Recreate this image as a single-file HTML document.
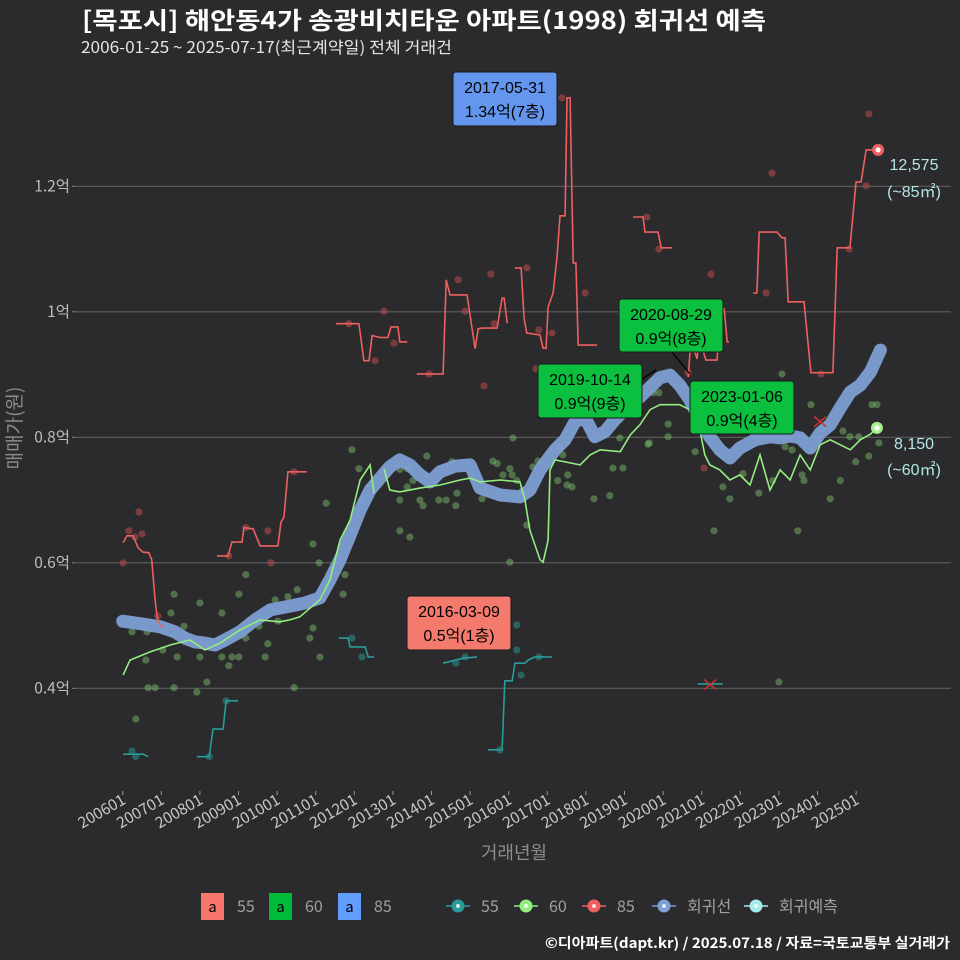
<!DOCTYPE html>
<html><head><meta charset="utf-8"><style>
html,body{margin:0;padding:0;background:#2b2b2d;}
svg{display:block;font-family:"Liberation Sans","Noto Sans CJK KR",sans-serif;}
</style></head><body>
<svg id="chart" width="960" height="960" viewBox="0 0 960 960" xmlns="http://www.w3.org/2000/svg">
<rect x="0" y="0" width="960" height="960" fill="#2b2b2d"/>
<text x="82" y="29" fill="#ffffff" font-size="24" font-weight="bold" textLength="684" lengthAdjust="spacingAndGlyphs" font-family="'Noto Sans CJK KR',sans-serif">[목포시] 해안동4가 송광비치타운 아파트(1998) 회귀선 예측</text>
<text x="81" y="53" fill="#e6e6e6" font-size="16" textLength="371" lengthAdjust="spacingAndGlyphs" font-family="'Noto Sans CJK KR',sans-serif">2006-01-25 ~ 2025-07-17(최근계약일) 전체 거래건</text>
<g id="grid"></g>
<g id="yaxis"></g>
<g id="xaxis"></g>
<g id="marks"></g>
<g id="notes"></g>
<text transform="translate(21,428) rotate(-90)" text-anchor="middle" fill="#8c8c8c" font-size="19" font-family="'Noto Sans CJK KR',sans-serif">매매가(원)</text>
<text x="514" y="859" text-anchor="middle" fill="#8c8c8c" font-size="18" font-family="'Noto Sans CJK KR',sans-serif">거래년월</text>
<g id="legend" font-family="'Noto Sans CJK KR',sans-serif" font-size="15"></g>
<text x="950" y="948" text-anchor="end" fill="#ffffff" font-size="14" font-weight="bold" textLength="405" lengthAdjust="spacingAndGlyphs" font-family="'Noto Sans CJK KR',sans-serif">©디아파트(dapt.kr) / 2025.07.18 / 자료=국토교통부 실거래가</text>
</svg>
<script>
// ---------- data ----------
const yTicks = [0.4, 0.6, 0.8, 1.0, 1.2];
const yTickLabels = ["0.4억", "0.6억", "0.8억", "1억", "1.2억"];
const xTickYears = [2006,2007,2008,2009,2010,2011,2012,2013,2014,2015,2016,2017,2018,2019,2020,2021,2022,2023,2024,2025];
const xTickLabels = ["200601","200701","200801","200901","201001","201101","201201","201301","201401","201501","201601","201701","201801","201901","202001","202101","202201","202301","202401","202501"];

const regYears = [2006.0,2006.45,2006.97,2007.35,2007.61,2007.87,2008.13,2008.39,2008.65,2009.04,2009.43,2009.82,2010.33,2010.72,2011.11,2011.37,2011.63,2011.89,2012.15,2012.41,2012.67,2012.92,2013.18,2013.44,2013.70,2013.96,2014.22,2014.61,2015.0,2015.26,2015.78,2016.29,2016.55,2016.81,2017.2,2017.46,2017.72,2017.98,2018.23,2018.49,2018.75,2019.01,2019.40,2019.92,2020.18,2020.43,2020.69,2020.95,2021.21,2021.47,2021.73,2021.99,2022.38,2022.77,2023.03,2023.29,2023.55,2023.81,2024.07,2024.33,2024.59,2024.85,2025.11,2025.37,2025.63];
const regValues = [0.507,0.503,0.498,0.490,0.480,0.474,0.472,0.469,0.477,0.490,0.509,0.525,0.531,0.536,0.544,0.573,0.605,0.644,0.684,0.716,0.735,0.753,0.764,0.756,0.740,0.729,0.745,0.754,0.756,0.719,0.708,0.705,0.716,0.748,0.780,0.796,0.825,0.831,0.801,0.809,0.828,0.844,0.864,0.895,0.899,0.883,0.860,0.828,0.801,0.780,0.767,0.783,0.796,0.801,0.799,0.802,0.799,0.783,0.807,0.820,0.847,0.872,0.883,0.904,0.939];

const s60Years = [2006.01,2006.19,2006.71,2007.23,2007.74,2008.13,2008.52,2009.04,2009.56,2010.07,2010.33,2010.59,2011.11,2011.37,2011.63,2011.89,2012.15,2012.41,2012.51,null,2012.77,2012.92,2013.18,2013.70,2014.22,2014.74,2015.0,2015.26,2015.78,2016.29,2016.42,2016.55,2016.81,2016.89,2017.02,2017.07,2017.20,2017.85,2018.11,2018.37,2018.89,2019.15,2019.40,2019.66,2019.92,2020.43,2020.69,2020.95,2021.08,2021.21,2021.47,2021.73,2021.99,2022.25,2022.51,2022.77,2023.03,2023.29,2023.55,2023.81,2024.07,2024.33,2024.59,2024.85,2025.11,2025.37,2025.54];
const s60Values = [0.421,0.445,0.458,0.469,0.477,0.461,0.472,0.493,0.509,0.506,0.509,0.514,0.541,0.573,0.636,0.668,0.732,0.756,0.711,null,0.750,0.716,0.713,0.719,0.724,0.732,0.735,0.729,0.732,0.729,0.700,0.652,0.605,0.601,0.636,0.748,0.764,0.756,0.772,0.780,0.777,0.804,0.820,0.844,0.852,0.852,0.844,0.812,0.772,0.756,0.748,0.732,0.740,0.724,0.772,0.716,0.748,0.732,0.772,0.748,0.788,0.796,0.788,0.780,0.796,0.805,0.815];

const s85Years = [2006.01,2006.11,2006.27,2006.40,2006.52,2006.68,2006.75,2006.84,2006.89,2006.97,2007.04,null,
 2008.44,2008.73,2008.83,2009.09,2009.14,2009.38,2009.56,2010.02,2010.10,2010.18,2010.28,2010.77,null,
 2011.53,2012.12,2012.25,2012.38,2012.46,2012.67,2012.87,2012.95,2013.13,2013.18,2013.37,null,
 2013.62,2014.30,2014.38,2014.48,2014.92,2015.13,2015.21,2015.31,2015.70,2015.83,2015.88,2015.96,null,
 2016.16,2016.32,2016.40,2016.47,2016.81,2016.89,2016.97,2017.02,2017.15,2017.25,2017.33,2017.46,2017.51,2017.59,2017.67,2017.74,2017.80,2018.29,null,
 2019.22,2019.48,2019.53,2019.87,2019.95,2020.23,null,
 2020.65,2020.72,2020.88,2020.93,2021.11,2021.40,2021.47,2021.58,2021.66,2021.71,null,
 2022.33,2022.43,2022.49,2022.95,2023.08,2023.16,2023.24,2023.65,2023.83,2024.40,2024.51,2024.84,2025.00,2025.13,2025.26,2025.44,2025.57];
const s85Values = [0.632,0.643,0.643,0.624,0.617,0.616,0.605,0.541,0.514,0.499,0.499,null,
 0.611,0.611,0.633,0.633,0.656,0.654,0.627,0.627,0.665,0.673,0.745,0.745,null,
 0.981,0.981,0.922,0.922,0.962,0.959,0.959,0.976,0.976,0.952,0.952,null,
 0.901,0.901,1.051,1.027,1.027,0.941,0.973,0.974,0.974,1.022,1.022,0.982,null,
 1.070,1.070,0.989,0.966,0.963,0.942,0.942,1.008,1.030,1.087,1.153,1.153,1.341,1.341,1.078,1.078,0.947,0.947,null,
 1.151,1.151,1.127,1.127,1.102,1.102,null,
 0.896,0.954,0.925,0.960,0.923,0.923,1.005,1.005,0.952,0.952,null,
 1.030,1.030,1.127,1.127,1.118,1.118,1.016,1.016,0.903,0.903,1.102,1.102,1.207,1.207,1.258,1.258,1.258];

const s55Years = [2006.01,2006.53,2006.66,null,2007.92,2008.24,2008.34,2008.60,2008.68,2008.99,null,2011.60,2011.84,2011.89,2012.28,2012.36,2012.51,null,2014.30,2014.56,2014.82,2015.18,null,2015.46,2015.83,2015.90,2016.09,2016.16,2016.42,2016.50,2016.68,2017.12,null,2020.90,2021.55];
const s55Values = [0.295,0.295,0.291,null,0.291,0.291,0.335,0.335,0.380,0.380,null,0.480,0.480,0.466,0.466,0.450,0.450,null,0.440,0.444,0.448,0.450,null,0.302,0.302,0.412,0.412,0.440,0.440,0.445,0.450,0.450,null,0.407,0.407];

const dot60Years = [2006.24,2006.63,2006.60,2006.66,2006.84,2006.34,2007.04,2007.25,2007.33,2007.41,2007.33,2007.59,2008.00,2008.00,2007.92,2008.18,2008.57,2008.57,2008.75,2008.83,2009.01,2009.19,2009.01,2009.19,2009.53,2009.76,2009.69,2009.95,2010.02,2010.28,2010.52,2010.44,2010.93,2010.93,2010.85,2011.11,2011.09,2011.27,2011.71,2011.76,2011.94,2012.12,2012.20,2013.18,2013.44,2013.18,2013.18,2013.37,2013.37,2013.52,2013.70,2013.78,2013.88,2014.19,2014.38,2014.53,2014.66,2014.63,2015.31,2015.59,2015.70,2015.85,2016.03,2016.09,2016.21,2016.11,2016.03,2016.47,2016.63,2016.76,2017.33,2017.40,2017.53,2017.27,2017.51,2017.64,2018.21,2018.62,2018.70,2018.96,2018.88,2019.61,2019.64,2020.13,2020.13,2019.74,2019.89,2020.83,2021.32,2021.55,2021.73,2022.07,2022.48,2022.84,2023.08,2023.16,2023.34,2023.60,2023.65,2023.49,2023.83,2024.33,2024.59,2024.66,2024.84,2025.07,2024.99,2025.33,2025.41,2025.54,2025.59,2023.00];
const dot60Values = [0.490,0.490,0.445,0.401,0.401,0.351,0.461,0.520,0.550,0.450,0.401,0.499,0.536,0.450,0.394,0.410,0.520,0.450,0.436,0.450,0.450,0.581,0.550,0.480,0.499,0.471,0.450,0.541,0.507,0.546,0.557,0.401,0.630,0.496,0.480,0.450,0.600,0.695,0.550,0.581,0.780,0.750,0.700,0.651,0.641,0.700,0.749,0.750,0.721,0.731,0.700,0.691,0.770,0.700,0.700,0.761,0.711,0.691,0.702,0.762,0.758,0.740,0.750,0.740,0.731,0.799,0.601,0.660,0.753,0.762,0.783,0.772,0.740,0.731,0.724,0.721,0.702,0.707,0.751,0.751,0.799,0.789,0.791,0.801,0.821,0.871,0.871,0.777,0.651,0.721,0.702,0.742,0.711,0.731,0.901,0.785,0.780,0.740,0.731,0.651,0.852,0.702,0.731,0.810,0.801,0.801,0.761,0.770,0.852,0.852,0.791,0.410];

const dot85Years = [2006.01,2006.16,2006.42,2006.50,2006.32,2006.91,2008.75,2009.19,2009.76,2009.84,2010.44,2011.86,2012.77,2012.54,2013.03,2013.94,2014.69,2014.87,2015.36,2015.54,2015.62,2016.47,2016.71,2016.78,2017.12,2017.38,2017.98,2019.58,2019.89,2021.24,2021.06,2022.67,2022.82,2024.09,2024.82,2025.26,2025.33,2020.65];
const dot85Values = [0.600,0.651,0.681,0.646,0.641,0.515,0.611,0.656,0.651,0.600,0.745,0.981,1.001,0.922,0.950,0.901,1.051,1.001,0.882,1.060,0.981,1.070,0.909,0.971,0.966,1.341,1.030,1.151,1.100,1.060,0.751,1.030,1.221,0.901,1.100,1.201,1.315,0.903];

const dot55Years = [2006.24,2006.34,2008.24,2008.68,2011.94,2012.20,2014.63,2014.87,2016.21,2016.21,2016.32,2016.78,2015.77];
const dot55Values = [0.300,0.291,0.291,0.380,0.480,0.450,0.440,0.450,0.501,0.461,0.421,0.450,0.302];

const crossYears = [2021.22, 2024.07];
const crossValues = [0.406, 0.825];

const noteDates = ["2017-05-31","2016-03-09","2019-10-14","2020-08-29","2023-01-06"];
const noteTexts = ["1.34억(7층)","0.5억(1층)","0.9억(9층)","0.9억(8층)","0.9억(4층)"];

// ---------- scales ----------
const X = yr => 122.7 + (yr - 2006) * 38.6;
const Y = v => 688.3 - (v - 0.4) * 627.5;
const NS = "http://www.w3.org/2000/svg";
function mk(tag, attrs, parent){ const e=document.createElementNS(NS,tag); for(const k in attrs) e.setAttribute(k,attrs[k]); parent.appendChild(e); return e; }
function pathFrom(xs, vs){ let d="", pen=false; for(let i=0;i<xs.length;i++){ if(xs[i]===null){pen=false;continue;} d+=(pen?"L":"M")+X(xs[i]).toFixed(1)+","+Y(vs[i]).toFixed(1); pen=true;} return d; }

const grid=document.getElementById('grid'), yax=document.getElementById('yaxis'), xax=document.getElementById('xaxis'), marks=document.getElementById('marks'), notes=document.getElementById('notes'), legend=document.getElementById('legend');

yTicks.forEach((v,i)=>{
  const l=mk('line',{x1:75,x2:951,y1:Y(v),y2:Y(v),stroke:'#5e5e5e','stroke-width':1.2},grid);
  
  
  const t=mk('line',{x1:72,x2:75,y1:Y(v),y2:Y(v),stroke:'#888','stroke-width':1},yax);
  
  
  const tx=mk('text',{x:70,y:Y(v)+5,'text-anchor':'end',fill:'#bdbdbd','font-size':15.5,'font-family':"'Noto Sans CJK KR',sans-serif"},yax);
  
  
  tx.textContent=yTickLabels[i];
});
xTickYears.forEach((yr,i)=>{
  const x=X(yr);
  const t=mk('line',{x1:x,x2:x,y1:791,y2:795,stroke:'#999','stroke-width':1},xax);
  
  
  const tx=mk('text',{transform:`translate(${x+4},${803}) rotate(-30)`,'text-anchor':'end',fill:'#c8c8c8','font-size':15.5,'font-family':"'Noto Sans CJK KR',sans-serif"},xax);
  
  
  tx.textContent=xTickLabels[i];
});

function dots(xs,vs,fill,op,name){
  xs.forEach((yr,i)=>{ const c=mk('circle',{cx:X(yr),cy:Y(vs[i]),r:3.6,fill:fill,'fill-opacity':op},marks);
    
     });
}
dots(dot60Years,dot60Values,'#79b86a',0.5,'point-60');
dots(dot85Years,dot85Values,'#b0484a',0.6,'point-85');
dots(dot55Years,dot55Values,'#2a7d7b',0.7,'point-55');

const reg=mk('path',{d:pathFrom(regYears,regValues),fill:'none',stroke:'#7e9fd4','stroke-width':13,'stroke-linecap':'round','stroke-linejoin':'round','stroke-opacity':0.95},marks);


const l55=mk('path',{d:pathFrom(s55Years,s55Values),fill:'none',stroke:'#2a9b98','stroke-width':1.6},marks);


const l60=mk('path',{d:pathFrom(s60Years,s60Values),fill:'none',stroke:'#93ee7f','stroke-width':1.6},marks);


const l85=mk('path',{d:pathFrom(s85Years,s85Values),fill:'none',stroke:'#ee5f5f','stroke-width':1.6},marks);



crossYears.forEach((yr,i)=>{ const x=X(yr),y=Y(crossValues[i]);
  const p=mk('path',{d:`M${x-6},${y-5}L${x+6},${y+5}M${x-6},${y+5}L${x+6},${y-5}`,stroke:'#d03030','stroke-width':1.5},marks);
  
   });

// end points
const last85=s85Values.length-1, last60=s60Values.length-1;
[[s85Years[last85],s85Values[last85],'#f06060','end-point-85'],[s60Years[last60],s60Values[last60],'#a5f08e','end-point-60']].forEach(e=>{
  const c=mk('circle',{cx:X(e[0]),cy:Y(e[1]),r:6,fill:e[2]},marks);
  
  
  const c2=mk('circle',{cx:X(e[0]),cy:Y(e[1]),r:2.6,fill:'#ffffff'},marks);
  
  
});
[[164,"12,575"],[191,"(~85㎡)"],[443,"8,150"],[469,"(~60㎡)"]].forEach(r=>{
  const t=mk('text',{x:914,y:r[0]+6,'text-anchor':'middle',fill:'#b3e6e6','font-size':16},notes);
  
  
  t.textContent=r[1];
});

// annotation boxes: [x,y,w,h,fill]
const boxes=[[453,72,104,54,'#6596ee'],[407,596,104,54,'#f47a6e'],[538,364,104,54,'#0bbf3f'],[619,299,104,53,'#0bbf3f'],[690,381,104,53,'#0bbf3f']];
const leaders=[null,null,[641,380,656,370],[672,352,690,374],null];
boxes.forEach((b,i)=>{
  if(leaders[i]){ const l=mk('line',{x1:leaders[i][0],y1:leaders[i][1],x2:leaders[i][2],y2:leaders[i][3],stroke:'#000','stroke-width':1.2},notes);
    
     }
  const r=mk('rect',{x:b[0],y:b[1],width:b[2],height:b[3],rx:3,fill:b[4],stroke:'#1a1a1a','stroke-width':1},notes);
  
  
  const t1=mk('text',{x:b[0]+b[2]/2,y:b[1]+21,'text-anchor':'middle',fill:'#000','font-size':16},notes);
  
  
  t1.textContent=noteDates[i];
  const t2=mk('text',{x:b[0]+b[2]/2,y:b[1]+45,'text-anchor':'middle',fill:'#000','font-size':16,'font-family':"'Liberation Sans','Noto Sans CJK KR',sans-serif"},notes);
  
  
  t2.textContent=noteTexts[i];
});

// legend
[[201,'#f8766d','55'],[269,'#00ba38','60'],[338,'#619cff','85']].forEach(k=>{
  const r=mk('rect',{x:k[0],y:893,width:23,height:27,fill:k[1]},legend);
  
  
  const a=mk('text',{x:k[0]+11.5,y:912,'text-anchor':'middle',fill:'#000','font-size':15},legend);
  
  
  a.textContent='a';
  const t=mk('text',{x:k[0]+36,y:912,fill:'#a0a0a0','font-size':16},legend);
  
  
  t.textContent=k[2];
});
[[458,'#2a9b98','55'],[526,'#93ee7f','60'],[594,'#ee5f5f','85'],[664,'#7e9fd4','회귀선'],[756,'#a5ecec','회귀예측']].forEach(k=>{
  const l=mk('line',{x1:k[0]-12,x2:k[0]+12,y1:906,y2:906,stroke:k[1],'stroke-width':1.6},legend);
  
  
  const c=mk('circle',{cx:k[0],cy:906,r:6.5,fill:k[1]},legend);
  
  
  const c2=mk('circle',{cx:k[0],cy:906,r:2,fill:'#ffffff','fill-opacity':0.8},legend);
  
  
  const t=mk('text',{x:k[0]+23,y:912,fill:'#a0a0a0','font-size':16},legend);
  
  
  t.textContent=k[2];
});
</script>
</body></html>
